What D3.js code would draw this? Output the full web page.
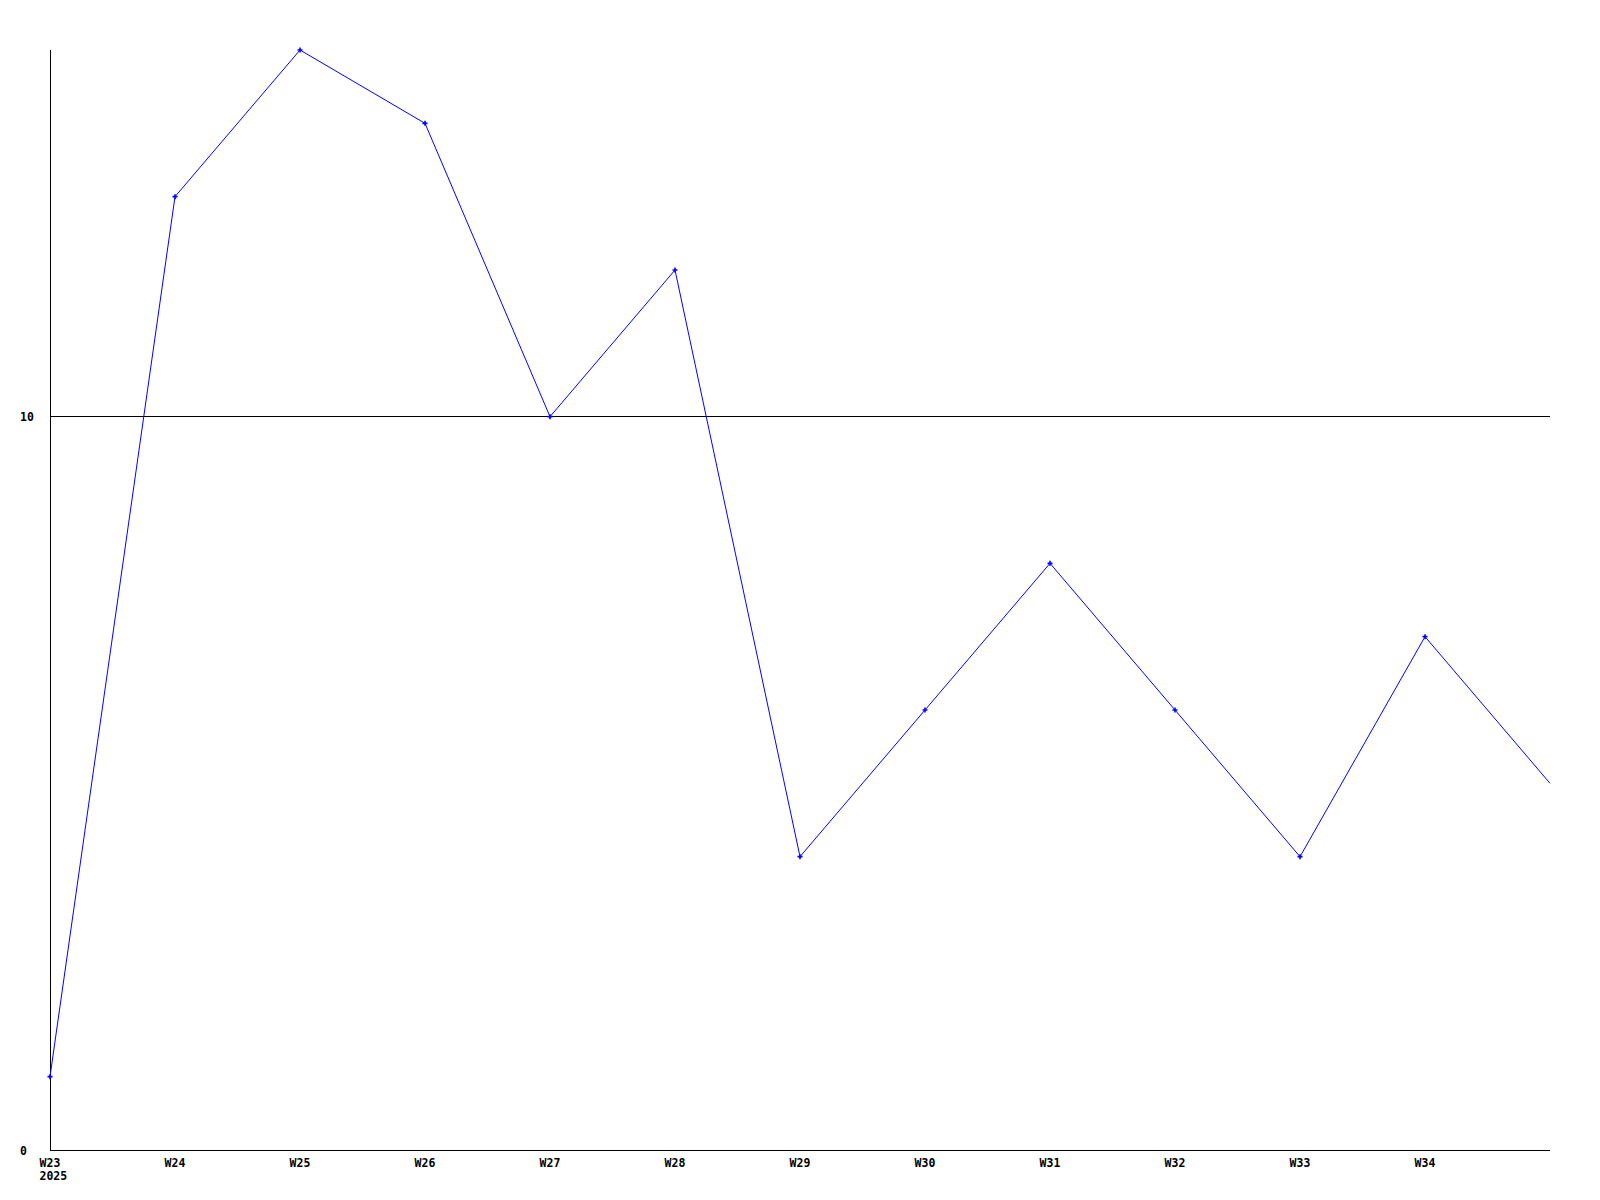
<!DOCTYPE html>
<html>
<head>
<meta charset="utf-8">
<script src="https://cdn.jsdelivr.net/npm/d3@7"></script>
<style>
  html, body { margin: 0; padding: 0; background: #fff; }
  svg { display: block; }
  text { font-family: "DejaVu Sans Mono", "Liberation Mono", monospace; font-weight: bold; font-size: 11.5px; fill: #000; }
</style>
</head>
<body>
<script>
const weeks = ["W23","W24","W25","W26","W27","W28","W29","W30","W31","W32","W33","W34","W35"];
const values = [1, 13, 15, 14, 10, 12, 4, 6, 8, 6, 4, 7, 5];
const xTickLabels = ["W23","W24","W25","W26","W27","W28","W29","W30","W31","W32","W33","W34"];
const yearLabel = "2025";
const yTicks = [0, 10];

const W = 1600, H = 1200;
const svg = d3.select("body").append("svg").attr("width", W).attr("height", H);

const x = d3.scalePoint().domain(weeks).range([50, 1550]);
const y = d3.scaleLinear().domain([0, 15]).range([1150, 50]);

// gridline at 10
svg.selectAll("line.grid").data(yTicks.filter(d => d > 0)).join("line")
  .attr("class", "grid")
  .attr("x1", 50).attr("x2", 1550)
  .attr("y1", d => Math.floor(y(d)) + 0.5).attr("y2", d => Math.floor(y(d)) + 0.5)
  .attr("stroke", "#000").attr("stroke-width", 1).attr("shape-rendering", "crispEdges");

// y axis line
svg.append("line").attr("x1", 50.5).attr("x2", 50.5).attr("y1", y(15)).attr("y2", y(0))
  .attr("stroke", "#000").attr("shape-rendering", "crispEdges");
// x axis line
svg.append("line").attr("x1", 50).attr("x2", 1550).attr("y1", y(0) + 0.5).attr("y2", y(0) + 0.5)
  .attr("stroke", "#000").attr("shape-rendering", "crispEdges");

// y tick labels
svg.selectAll("text.ytick").data(yTicks).join("text")
  .attr("class", "ytick")
  .attr("x", 20).attr("y", d => Math.floor(y(d)) + 4.5)
  .text(d => d);

// x tick labels
svg.selectAll("text.xtick").data(xTickLabels).join("text")
  .attr("class", "xtick")
  .attr("x", d => x(d)).attr("y", 1167)
  .attr("text-anchor", "middle")
  .text(d => d);
svg.append("text").attr("x", x(weeks[0]) - 10.5).attr("y", 1180).text(yearLabel);

// line
const data = weeks.map((w, i) => ({ w, v: values[i] }));
const line = d3.line().x(d => x(d.w)).y(d => y(d.v));
svg.append("path").datum(data).attr("d", line)
  .attr("fill", "none").attr("stroke", "#0000ff").attr("stroke-width", 1);

// markers (not at the last, clipped point)
svg.selectAll("path.mark").data(data.slice(0, -1)).join("path")
  .attr("class", "mark")
  .attr("transform", d => `translate(${x(d.w)},${y(d.v)})`)
  .attr("d", "M-2.5,0H2.5M0,-2.5V2.5")
  .attr("stroke", "#0000ff").attr("stroke-width", 1.6);
</script>
</body>
</html>
